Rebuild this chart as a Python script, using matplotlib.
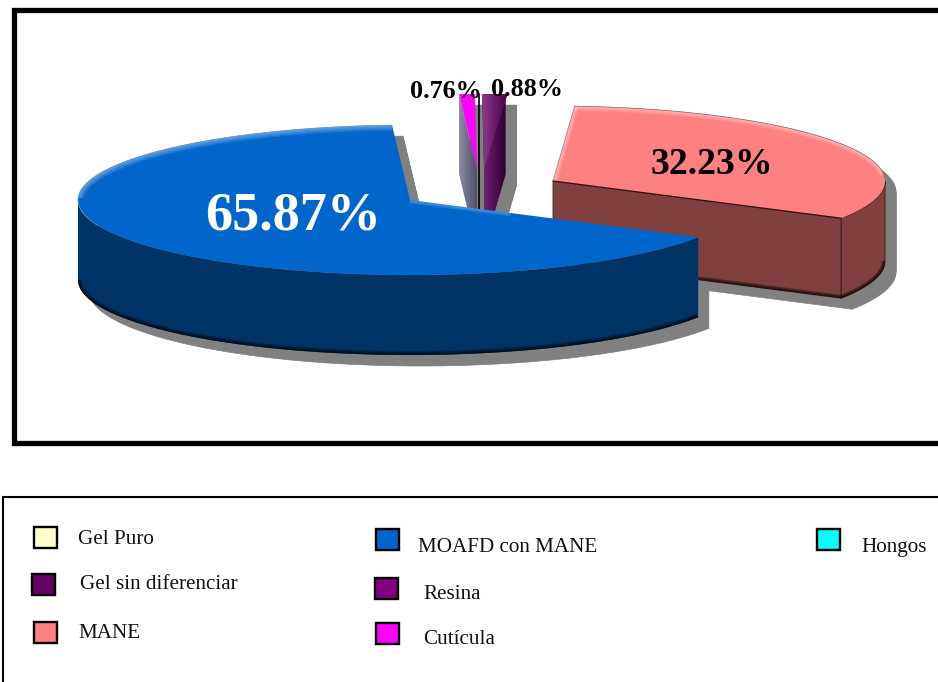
import numpy as np
import matplotlib
matplotlib.use("Agg")
import matplotlib.pyplot as plt
from matplotlib.patches import Polygon, Rectangle
from matplotlib.colors import to_rgb

# ---- data
slices = ["MOAFD con MANE", "MANE", "Resina", "Cutícula"]
percent = [65.87, 32.23, 0.88, 0.76]
labels = ["65.87%", "32.23%", "0.88%", "0.76%"]
legend_names = ["Gel Puro", "Gel sin diferenciar", "MANE", "MOAFD con MANE", "Resina", "Cutícula", "Hongos"]
legend_colors = ["#FFFFCC", "#660066", "#FF8080", "#0066CC", "#800080", "#FF00FF", "#00FFFF"]

# ---- layout (pixels)
top_colors = ["#0066CC", "#FF8080", "#800080", "#FF00FF"]
side_colors = ["#003366", "#804040", "#300030", "#70708C"]
apex = [(410, 200), (553, 181), (484, 169), (477, 169)]
RX, RY, H = 332, 75, 80
SHADOW = 11
START = 93.1
label_xy = [(293, 217), (712, 165), (527, 90), (446, 92)]
label_style = [("white", 39), ("black", 27.2), ("black", 18.8), ("black", 18.8)]
swatch_xy = [(34, 527), (32, 574), (34, 622), (376, 529), (375, 578), (376, 623), (817, 529)]
text_xy = [(78, 544), (80, 589), (78, 638), (418, 552), (423, 599), (423, 644), (861, 552)]

fig = plt.figure(figsize=(9.38, 6.82), dpi=100, facecolor="white")
ax = fig.add_axes([0, 0, 1, 1])
ax.set_xlim(0, 938)
ax.set_ylim(682, 0)
ax.axis("off")
SERIF = "Liberation Serif"


def ell(c, t):
    t = np.radians(t)
    return np.column_stack([c[0] + RX * np.cos(t), c[1] - RY * np.sin(t)])


def top_poly(c, a0, a1):
    return np.vstack([[c], ell(c, np.linspace(a0, a1, 200))])


def gradient(poly, left, right, z):
    """Horizontal colour ramp clipped to a polygon."""
    p = Polygon(poly, closed=True, fc="none", ec="none", zorder=z)
    ax.add_patch(p)
    ramp = np.linspace(np.array(to_rgb(left)), np.array(to_rgb(right)), 64)[None, :, :]
    x0, x1 = poly[:, 0].min(), poly[:, 0].max()
    y0, y1 = poly[:, 1].min(), poly[:, 1].max()
    im = ax.imshow(ramp, extent=(x0, x1, y1, y0), aspect="auto", zorder=z, interpolation="bilinear")
    im.set_clip_path(p)


def glow(line, clip, color, z, widths=(9, 7, 5, 3), alpha=0.16):
    c = Polygon(clip, closed=True, fc="none", ec="none", zorder=z)
    ax.add_patch(c)
    for w in widths:
        l, = ax.plot(line[:, 0], line[:, 1], color=color, lw=w * 0.72, alpha=alpha,
                     zorder=z, solid_capstyle="butt")
        l.set_clip_path(c)


# angular extents: the largest slices run counter-clockwise from START,
# the last slice closes back on START, the unseen remainder sits between.
sweep = [v * 3.6 for v in percent]
a_blue = (START, START + sweep[0])
a_mane = (a_blue[1], a_blue[1] + sweep[1])
a_res = (a_mane[1], a_mane[1] + sweep[2])
a_cut = (START + 360 - sweep[3], START + 360)
angles = [a_blue, a_mane, a_res, a_cut]

# shadows under everything
for c, (a0, a1) in zip(apex, angles):
    base = top_poly(c, a0, a1)
    for dy in np.arange(0, H + 1, 1.0):
        ax.add_patch(Polygon(base + [SHADOW, SHADOW + dy], closed=True, fc="#808080", ec="#808080",
                             lw=0.5, zorder=1))


def rim_quad(c, a0, a1):
    e = ell(c, np.linspace(a0, a1, 120))
    return np.vstack([e, (e + [0, H])[::-1]])


def cut_quad(c, a):
    e = ell(c, np.array([a]))[0]
    return np.array([c, e, e + [0, H], [c[0], c[1] + H]])


# MANE
c = apex[1]; a0, a1 = a_mane
q_cut = cut_quad(c, a0)
q_rim = rim_quad(c, a0, 360)
ax.add_patch(Polygon(q_cut, closed=True, fc=side_colors[1], ec="#5a2d2d", lw=0.7, zorder=3))
ax.add_patch(Polygon(q_rim, closed=True, fc=side_colors[1], ec="#402020", lw=0.7, zorder=3))
bot = np.vstack([q_cut[3], q_cut[2], ell(c, np.linspace(a0, 360, 60)) + [0, H]])
glow(bot, np.vstack([q_cut, q_rim]), "black", 3.1, widths=(7, 5, 3), alpha=0.3)
tp = top_poly(c, a0, a1)
ax.add_patch(Polygon(tp, closed=True, fc=top_colors[1], ec="none", zorder=4))
glow(ell(c, np.linspace(365, a1, 150)), tp, "white", 4.1, widths=(9, 6, 3), alpha=0.14)
glow(np.vstack([ell(c, np.array([a1]))[0], c]), tp, "white", 4.1, widths=(9, 6, 3), alpha=0.14)
ax.plot(*np.vstack([c, ell(c, np.array([a0]))[0]]).T, color="#301010", lw=0.9, zorder=4.2)
ax.plot(*np.vstack([c, ell(c, np.array([a1]))[0]]).T, color="#b08080", lw=0.6, zorder=4.2)
ax.plot(*ell(c, np.linspace(a0 + 32, a1, 120)).T, color="#806060", lw=0.5, zorder=4.2)

# Resina
c = apex[2]; a0, a1 = a_res
q = cut_quad(c, a0)
gradient(q, "#702070", side_colors[2], 5)
res_top = top_poly(c, a0 - 0.3, a1 + 0.9)
ax.add_patch(Polygon(res_top, closed=True, fc="#660066", ec="none", zorder=5.5))
gradient(res_top, "#8A3A8A", "#4A004A", 5.6)

# Cutícula
c = apex[3]; a0, a1 = a_cut
q = cut_quad(c, a1)
gradient(q, "#8A8AA0", "#50506A", 5)
ax.add_patch(Polygon(top_poly(c, a0, a1), closed=True, fc=top_colors[3], ec="none", zorder=5.5))
ax.plot([c[0] + 1.5, c[0] + 1.5], [c[1] - RY, c[1] + H], color="black", lw=1.2, zorder=5.7)

# MOAFD con MANE
c = apex[0]; a0, a1 = a_blue
q_rim = rim_quad(c, 180, a1)
ax.add_patch(Polygon(q_rim, closed=True, fc=side_colors[0], ec="none", zorder=6))
glow(ell(c, np.linspace(180, a1, 150)) + [0, H], q_rim, "black", 6.1, widths=(8, 6, 4, 2), alpha=0.25)
tp = top_poly(c, a0, a1)
ax.add_patch(Polygon(tp, closed=True, fc=top_colors[0], ec="none", zorder=7))
glow(ell(c, np.linspace(a0, 178, 150)), tp, "white", 7.1, widths=(11, 8, 5, 2), alpha=0.11)
glow(np.vstack([c, ell(c, np.array([a1]))[0] * 0.35 + np.array(c) * 0.65]), tp, "white", 7.1,
     widths=(7, 4), alpha=0.13)
ax.plot(*ell(c, np.linspace(a0, 200, 120)).T, color="#6f8fb5", lw=0.5, zorder=7.2)

# value labels
for txt, (x, y), (col, fs) in zip(labels, label_xy, label_style):
    ax.text(x, y, txt, color=col, fontsize=fs, fontweight="bold", family=SERIF,
            ha="center", va="center", zorder=10)

# frames (run off the right edge)
ax.plot([960, 14, 14, 960], [10, 10, 443, 443], color="black", lw=3.8, zorder=11, solid_joinstyle="miter")
ax.plot([960, 3, 3], [497, 497, 700], color="black", lw=1.5, zorder=11, solid_joinstyle="miter")

# legend
for name, col, (sx, sy), (tx, ty) in zip(legend_names, legend_colors, swatch_xy, text_xy):
    ax.add_patch(Rectangle((sx, sy), 23, 21, fc=col, ec="black", lw=1.7, zorder=11))
    ax.text(tx, ty, name, color="#111111", fontsize=15.2, family=SERIF, ha="left", va="baseline", zorder=11)

ax.set_xlim(0, 938)
ax.set_ylim(682, 0)
fig.savefig("out.png", dpi=100)
